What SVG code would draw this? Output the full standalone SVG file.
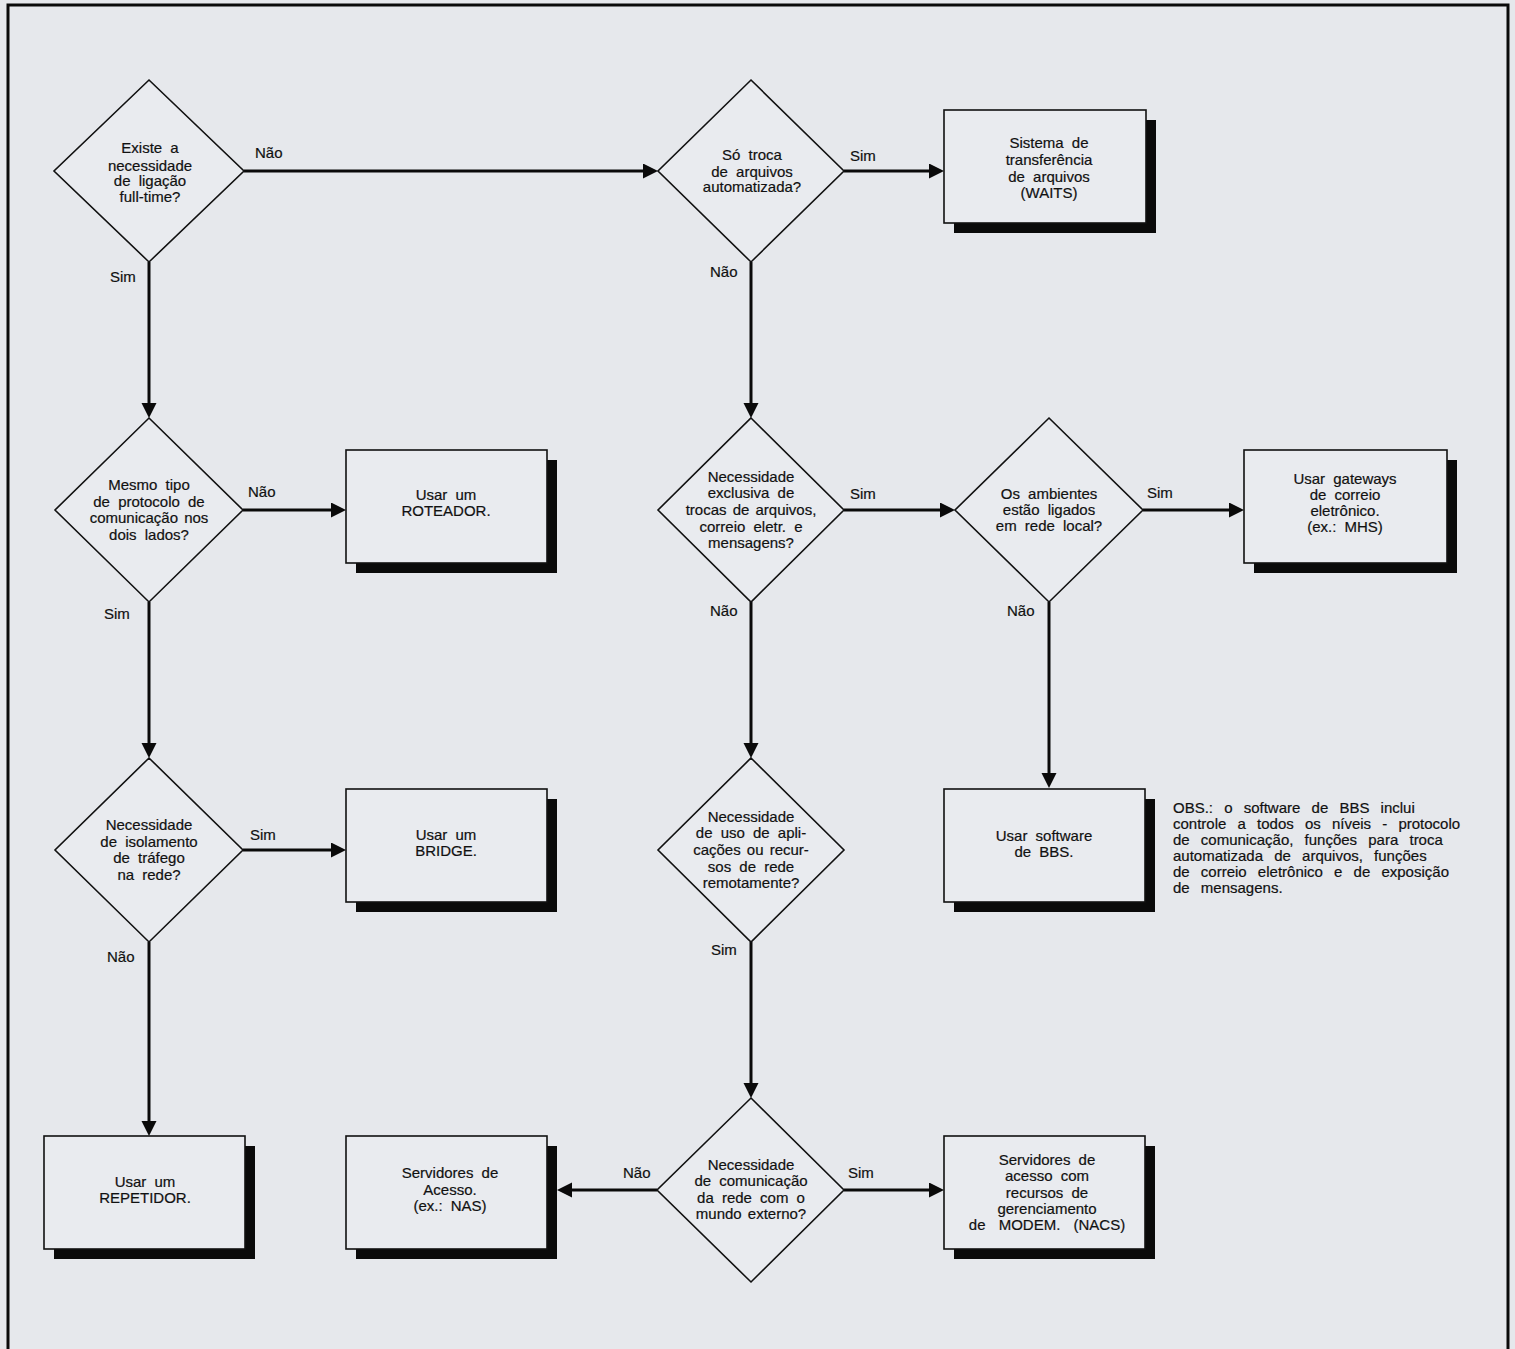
<svg xmlns="http://www.w3.org/2000/svg" width="1515" height="1349" viewBox="0 0 1515 1349">
<style>
text{font-family:"Liberation Sans",Arial,sans-serif;font-size:15px;fill:#111;text-anchor:middle;word-spacing:4px;stroke:#111;stroke-width:0.2}
.lbl{text-anchor:start;word-spacing:0}
.obs{text-anchor:start;word-spacing:7px}
.wide{word-spacing:9px}
.dia{fill:#e9ebef;stroke:#111;stroke-width:1.6}
.box{fill:#e9ebef;stroke:#111;stroke-width:1.6}
.sh{fill:#0a0a0a}
.con{stroke:#0a0a0a;stroke-width:3;fill:none;marker-end:url(#ah)}
</style>
<defs>
<marker id="ah" markerUnits="userSpaceOnUse" markerWidth="16" markerHeight="16" refX="5" refY="7.5" orient="auto">
<path d="M0,0 L15,7.5 L0,15 Z" fill="#0a0a0a"/>
</marker>
</defs>
<rect x="0" y="0" width="1515" height="1349" fill="#e6e8ec"/>
<rect x="8" y="5" width="1500" height="1360" fill="none" stroke="#0a0a0a" stroke-width="3"/>

<g id="connectors">
<path class="con" d="M149,262 V408"/>
<path class="con" d="M244,171 H648"/>
<path class="con" d="M844,171 H934"/>
<path class="con" d="M751,262 V408"/>
<path class="con" d="M243,510 H336"/>
<path class="con" d="M149,602 V748"/>
<path class="con" d="M844,510 H945"/>
<path class="con" d="M751,602 V748"/>
<path class="con" d="M1143,510 H1234"/>
<path class="con" d="M1049,602 V778"/>
<path class="con" d="M243,850 H336"/>
<path class="con" d="M149,942 V1126"/>
<path class="con" d="M751,942 V1088"/>
<path class="con" d="M657,1190 H567"/>
<path class="con" d="M844,1190 H934"/>
<text class="lbl" x="255" y="158">Não</text>
<text class="lbl" x="110" y="282">Sim</text>
<text class="lbl" x="850" y="161">Sim</text>
<text class="lbl" x="710" y="277">Não</text>
<text class="lbl" x="248" y="497">Não</text>
<text class="lbl" x="104" y="619">Sim</text>
<text class="lbl" x="850" y="499">Sim</text>
<text class="lbl" x="710" y="616">Não</text>
<text class="lbl" x="1147" y="498">Sim</text>
<text class="lbl" x="1007" y="616">Não</text>
<text class="lbl" x="250" y="840">Sim</text>
<text class="lbl" x="107" y="962">Não</text>
<text class="lbl" x="711" y="955">Sim</text>
<text class="lbl" x="623" y="1178">Não</text>
<text class="lbl" x="848" y="1178">Sim</text>
</g>

<g id="d1">
<polygon class="dia" points="149,80 244,171 149,262 54,171"/>
<text x="150" y="153">Existe a</text>
<text x="150" y="171">necessidade</text>
<text x="150" y="186">de ligação</text>
<text x="150" y="202">full-time?</text>
</g>
<g id="d2">
<polygon class="dia" points="751,80 844,171 751,262 658,171"/>
<text x="752" y="160">Só troca</text>
<text x="752" y="177">de arquivos</text>
<text x="752" y="192">automatizada?</text>
</g>
<g id="waits">
<rect class="sh" x="954" y="120" width="202" height="113"/>
<rect class="box" x="944" y="110" width="202" height="113"/>
<text x="1049" y="148">Sistema de</text>
<text x="1049" y="165">transferência</text>
<text x="1049" y="182">de arquivos</text>
<text x="1049" y="198">(WAITS)</text>
</g>
<g id="d3">
<polygon class="dia" points="149,418 243,510 149,602 55,510"/>
<text x="149" y="490">Mesmo tipo</text>
<text x="149" y="507">de protocolo de</text>
<text x="149" y="523" style="word-spacing:2px">comunicação nos</text>
<text x="149" y="540">dois lados?</text>
</g>
<g id="roteador">
<rect class="sh" x="356" y="460" width="201" height="113"/>
<rect class="box" x="346" y="450" width="201" height="113"/>
<text x="446" y="500">Usar um</text>
<text x="446" y="516">ROTEADOR.</text>
</g>
<g id="d4">
<polygon class="dia" points="751,418 844,510 751,602 658,510"/>
<text x="751" y="482">Necessidade</text>
<text x="751" y="498">exclusiva de</text>
<text x="751" y="515" style="word-spacing:2px">trocas de arquivos,</text>
<text x="751" y="532">correio eletr. e</text>
<text x="751" y="548">mensagens?</text>
</g>
<g id="d5">
<polygon class="dia" points="1049,418 1143,510 1049,602 955,510"/>
<text x="1049" y="499">Os ambientes</text>
<text x="1049" y="515">estão ligados</text>
<text x="1049" y="531">em rede local?</text>
</g>
<g id="gateways">
<rect class="sh" x="1254" y="460" width="203" height="113"/>
<rect class="box" x="1244" y="450" width="203" height="113"/>
<text x="1345" y="484">Usar gateways</text>
<text x="1345" y="500">de correio</text>
<text x="1345" y="516">eletrônico.</text>
<text x="1345" y="532">(ex.: MHS)</text>
</g>
<g id="d6">
<polygon class="dia" points="149,758 243,850 149,942 55,850"/>
<text x="149" y="830">Necessidade</text>
<text x="149" y="847">de isolamento</text>
<text x="149" y="863">de tráfego</text>
<text x="149" y="880">na rede?</text>
</g>
<g id="bridge">
<rect class="sh" x="356" y="799" width="201" height="113"/>
<rect class="box" x="346" y="789" width="201" height="113"/>
<text x="446" y="840">Usar um</text>
<text x="446" y="856">BRIDGE.</text>
</g>
<g id="d7">
<polygon class="dia" points="751,758 844,850 751,942 658,850"/>
<text x="751" y="822">Necessidade</text>
<text x="751" y="838">de uso de apli-</text>
<text x="751" y="855" style="word-spacing:2px">cações ou recur-</text>
<text x="751" y="872">sos de rede</text>
<text x="751" y="888">remotamente?</text>
</g>
<g id="bbs">
<rect class="sh" x="954" y="799" width="201" height="113"/>
<rect class="box" x="944" y="789" width="201" height="113"/>
<text x="1044" y="841">Usar software</text>
<text x="1044" y="857">de BBS.</text>
</g>
<g id="obs">
<text class="obs" x="1173" y="813">OBS.: o software de BBS inclui</text>
<text class="obs" x="1173" y="829">controle a todos os níveis - protocolo</text>
<text class="obs" x="1173" y="845">de comunicação, funções para troca</text>
<text class="obs" x="1173" y="861">automatizada de arquivos, funções</text>
<text class="obs" x="1173" y="877">de correio eletrônico e de exposição</text>
<text class="obs" x="1173" y="893">de mensagens.</text>
</g>
<g id="repetidor">
<rect class="sh" x="54" y="1146" width="201" height="113"/>
<rect class="box" x="44" y="1136" width="201" height="113"/>
<text x="145" y="1187">Usar um</text>
<text x="145" y="1203">REPETIDOR.</text>
</g>
<g id="acesso">
<rect class="sh" x="356" y="1146" width="201" height="113"/>
<rect class="box" x="346" y="1136" width="201" height="113"/>
<text x="450" y="1178">Servidores de</text>
<text x="450" y="1195">Acesso.</text>
<text x="450" y="1211">(ex.: NAS)</text>
</g>
<g id="d8">
<polygon class="dia" points="751,1098 844,1190 751,1282 657,1190"/>
<text x="751" y="1170">Necessidade</text>
<text x="751" y="1186">de comunicação</text>
<text x="751" y="1203">da rede com o</text>
<text x="751" y="1219" style="word-spacing:2px">mundo externo?</text>
</g>
<g id="nacs">
<rect class="sh" x="954" y="1146" width="201" height="113"/>
<rect class="box" x="944" y="1136" width="201" height="113"/>
<text x="1047" y="1165">Servidores de</text>
<text x="1047" y="1181">acesso com</text>
<text x="1047" y="1198">recursos de</text>
<text x="1047" y="1214">gerenciamento</text>
<text x="1047" y="1230" class="wide">de MODEM. (NACS)</text>
</g>
</svg>
